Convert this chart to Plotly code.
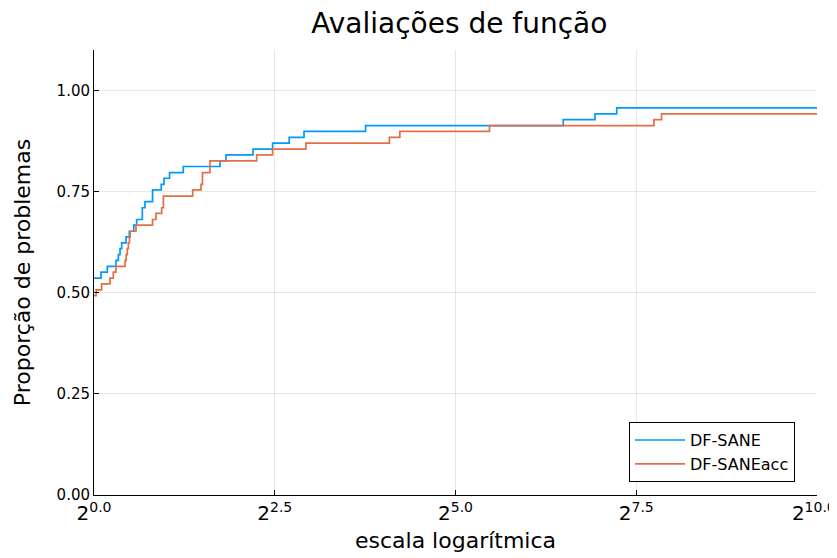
import plotly.graph_objects as go

# log2 of performance ratio (x) and fraction of problems (y)
sane_x = [0, 0.097, 0.184, 0.304, 0.337, 0.36, 0.383, 0.443, 0.489, 0.55, 0.59, 0.668, 0.705,
          0.81, 0.93, 0.968, 1.045, 1.235, 1.743, 1.826, 2.20, 2.47, 2.70, 2.905, 3.757,
          6.49, 6.93, 7.23, 10]
sane_y = [0.536, 0.551, 0.565, 0.580, 0.594, 0.609, 0.623, 0.638, 0.652, 0.667, 0.681, 0.710, 0.725,
          0.754, 0.768, 0.783, 0.797, 0.812, 0.826, 0.841, 0.855, 0.870, 0.884, 0.899, 0.913,
          0.928, 0.942, 0.957, 0.957]

acc_x = [0, 0.03, 0.106, 0.221, 0.267, 0.304, 0.43, 0.445, 0.46, 0.475, 0.49, 0.50, 0.581,
         0.81, 0.857, 0.936, 0.959, 1.365, 1.48, 1.50, 1.604, 2.25, 2.47, 2.93, 4.085,
         4.23, 5.47, 7.745, 7.85, 10]
acc_y = [0.493, 0.507, 0.522, 0.536, 0.551, 0.565, 0.580, 0.594, 0.609, 0.623, 0.638, 0.652, 0.667,
         0.681, 0.696, 0.710, 0.739, 0.754, 0.768, 0.797, 0.826, 0.841, 0.855, 0.870, 0.884,
         0.899, 0.913, 0.928, 0.942, 0.942]

x_tickvals = [0, 2.5, 5, 7.5, 10]
x_exponents = ["0.0", "2.5", "5.0", "7.5", "10.0"]
y_tickvals = [0, 0.25, 0.5, 0.75, 1.0]
y_ticktext = ["0.00", "0.25", "0.50", "0.75", "1.00"]

font = "DejaVu Sans"
x_ticktext = ["2<sup>%s</sup>" % e for e in x_exponents]
# keep the last label inside the page edge (nudged left with a trailing no-break space)
x_ticktext[-1] = x_ticktext[-1] + "\u00a0"

fig = go.Figure()
fig.add_trace(go.Scatter(x=sane_x, y=sane_y, mode="lines", line_shape="hv",
                         name="DF-SANE", line=dict(color="#009AFA", width=1.7)))
fig.add_trace(go.Scatter(x=acc_x, y=acc_y, mode="lines", line_shape="hv",
                         name="DF-SANEacc", line=dict(color="#E36F47", width=1.7)))

# page body has an 8px default margin, so the figure is sized/offset to compensate
fig.update_layout(
    width=829, height=550,
    margin=dict(l=86, r=20, t=42, b=63),
    paper_bgcolor="white", plot_bgcolor="white",
    font=dict(family=font, color="black"),
    title=dict(text="Avaliações de função", x=0.5444, xanchor="center", y=0.972, yanchor="middle",
               font=dict(size=28, family=font)),
    legend=dict(x=0.9696, xanchor="right", y=0.029, yanchor="bottom",
                bordercolor="black", borderwidth=1, bgcolor="white",
                font=dict(size=16, family=font), tracegroupgap=0, itemwidth=50),
    showlegend=True,
)
fig.update_xaxes(range=[0, 10], tickvals=x_tickvals, ticktext=x_ticktext,
                 showgrid=True, gridcolor="rgba(0,0,0,0.09)", gridwidth=1,
                 showline=True, linecolor="black", linewidth=1, mirror=False,
                 ticks="inside", ticklen=5, tickcolor="black", zeroline=False,
                 automargin=False, ticklabeloverflow="allow",
                 tickfont=dict(size=20, family=font),
                 title=dict(text="escala logarítmica", font=dict(size=22, family=font), standoff=8))
fig.update_yaxes(range=[0, 1.1], tickvals=y_tickvals, ticktext=y_ticktext,
                 showgrid=True, gridcolor="rgba(0,0,0,0.09)", gridwidth=1,
                 showline=True, linecolor="black", linewidth=1, mirror=False,
                 ticks="inside", ticklen=5, tickcolor="black", zeroline=False,
                 automargin=False,
                 tickfont=dict(size=15, family=font),
                 title=dict(text="Proporção de problemas", font=dict(size=22, family=font), standoff=19))

fig.write_html("out.html")
